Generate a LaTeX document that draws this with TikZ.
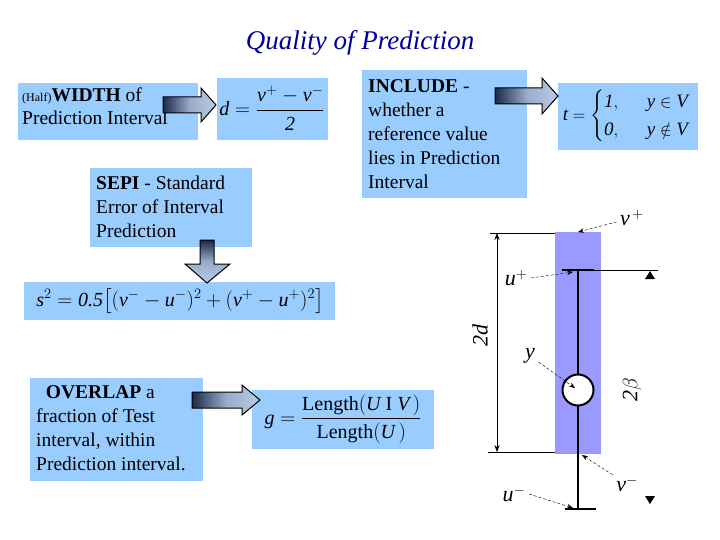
\documentclass[tikz,border=0pt]{standalone}
\usepackage{amsmath}
\usepackage{fontspec}
\setmainfont{Liberation Serif}
\usetikzlibrary{arrows.meta}
\definecolor{boxblue}{HTML}{99CCFF}
\definecolor{bandblue}{HTML}{9999FF}
\definecolor{titleblue}{HTML}{000099}
\definecolor{adark}{HTML}{1A2A4A}
\definecolor{alight}{HTML}{B8CCE8}
\tikzset{
 bx/.style={fill=none,draw=none,inner sep=4pt,align=left,font=\fontsize{19.5}{24}\selectfont},
 ash/.style={draw=black,line width=1pt,shading=axis,left color=adark,right color=alight,middle color=alight!80!adark},
 lbl/.style={font=\itshape\fontsize{22}{24}\selectfont},
 ptr/.style={densely dashed,-{Stealth[length=6pt]},thin},
 fm/.style={font=\fontsize{20}{24}\selectfont},
}
\newcommand{\I}[1]{\textit{#1}}
% x0, x1, yc, shaft half, head half, head length
\newcommand{\rarrow}[6]{%
 \draw[ash] (#1,#3-#4) -- (#2-#6,#3-#4) -- (#2-#6,#3-#5) -- (#2,#3) -- (#2-#6,#3+#5) -- (#2-#6,#3+#4) -- (#1,#3+#4) -- cycle;}
\begin{document}
\begin{tikzpicture}[x=1pt,y=-1pt]
\useasboundingbox (0,0) rectangle (720,540);
\node[font=\itshape\fontsize{27}{30}\selectfont,text=titleblue] (title) at (360,43) {Quality of Prediction};
% boxes
\fill[boxblue] (18,83) rectangle (198,140);
\node[bx,anchor=north west,font=\fontsize{19.5}{23}\selectfont,inner sep=2pt] (w) at (20,86) {{\fontsize{12}{12}\selectfont(Half)}\textbf{WIDTH} of\\Prediction Interval};
\fill[boxblue] (217,78) rectangle (328,140);
\node[fm] (d) at (272,108) {$\I{d}=\dfrac{\I{v}^{+}-\I{v}^{-}}{\I{2}}$};
\fill[boxblue] (90,168) rectangle (252,247);
\node[bx,anchor=north west] (sepi) at (92,172) {\textbf{SEPI} - Standard\\Error of Interval\\Prediction};
\fill[boxblue] (24,282) rectangle (335,320);
\node[fm] (s) at (180,301) {$\I{s}^{2}=\I{0.5}\bigl[(\I{v}^{-}-\I{u}^{-})^{2}+(\I{v}^{+}-\I{u}^{+})^{2}\bigr]$};
\fill[boxblue] (362,70) rectangle (527,198);
\node[bx,anchor=north west] (inc) at (364,75) {\textbf{INCLUDE} -\\whether a\\reference value\\lies in Prediction\\Interval};
\fill[boxblue] (558,83) rectangle (698,150);
\node[fm,font=\fontsize{19}{23}\selectfont] (t) at (626,116) {$\I{t}=\begin{cases}\I{1}, & \;\;\I{y}\in \I{V}\\ \I{0}, & \;\;\I{y}\notin \I{V}\end{cases}$};
\fill[boxblue] (30,378) rectangle (203,481);
\node[bx,anchor=north west,inner sep=2pt] (ov) at (34,383) {\ \ \textbf{OVERLAP} a\\fraction of Test\\interval, within\\Prediction interval.};
\fill[boxblue] (252,390) rectangle (434,449);
\node[fm] (g) at (343,419) {$\I{g}=\dfrac{\text{Length}(\I{U}\ \text{I}\ \I{V}\,)}{\text{Length}(\I{U}\,)}$};
% block arrows
\rarrow{163}{216}{105}{8}{17}{15}
\rarrow{495}{558}{96}{8}{18}{16}
\rarrow{192}{260}{400}{8}{15}{18}
\draw[draw=black,line width=1pt,shading=axis,top color=adark,bottom color=alight,middle color=alight!80!adark] (200,240) -- (214,240) -- (214,264) -- (230,264) -- (207,283) -- (185,264) -- (200,264) -- cycle;
% diagram
\fill[bandblue] (555,232) rectangle (601,454);
\coordinate (top) at (578,270);
\coordinate (bot) at (578,510);
\draw[line width=2.2pt] (top) -- (bot);
\draw[line width=2.5pt] (562,270) -- (594,270);
\draw[line width=2.5pt] (565,509) -- (596,509);
\draw (594,270) -- (658,270);
\node[circle,draw,fill=white,line width=2pt,minimum size=31pt,inner sep=0pt] (y) at (578,390) {};
\fill (650,271) -- (645,279) -- (655,279) -- cycle;
\fill (650,504) -- (645,496) -- (655,496) -- cycle;
\draw (490,233) -- (555,233);
\draw (488,452) -- (555,452);
\draw[{Stealth[length=7pt]}-{Stealth[length=7pt]}] (497,233) -- (497,452);
\node[lbl,rotate=90] (l2d) at (480,335) {2d};
\node[lbl,rotate=90] (l2b) at (632,390) {2$\beta$};
\node[lbl] (vp) at (632,218) {v$^{\,+}$};
\node[lbl] (up) at (516,278) {u$^{+}$};
\node[lbl] (yl) at (530,356) {y};
\node[lbl] (vm) at (627,484) {v$^{-}$};
\node[lbl] (um) at (514,494) {u$^{-}$};
\coordinate (vpE) at (578,232);
\coordinate (upE) at (573,272);
\coordinate (vmE) at (582,455);
\coordinate (umE) at (573,508);
\draw[ptr] (vp) -- (vpE);
\draw[ptr] (up.east) -- (upE);
\draw[ptr] (yl) -- (575,388);
\draw[ptr] (vm) -- (vmE);
\draw[ptr] (um.east) -- (umE);
\end{tikzpicture}
\end{document}
